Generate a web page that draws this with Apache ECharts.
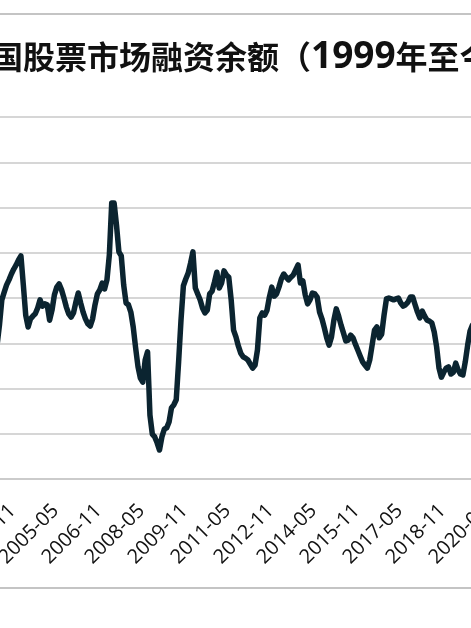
<!DOCTYPE html>
<html>
<head>
<meta charset="utf-8">
<script src="https://cdn.jsdelivr.net/npm/echarts@6/dist/echarts.min.js"></script>
<style>
html,body{margin:0;padding:0;background:#fff;overflow:hidden;width:471px;height:628px;}
#chart{position:absolute;left:-100px;top:0;width:671px;height:628px;}
</style>
</head>
<body>
<div id="chart"></div>
<script>
// Chart title pieces
var titleHead = '中国股票市场融资余额（';
var titleYear = '1999';
var titleTail = '年至今）';

// Monthly categories starting 2002-05 (235 months, to 2021-11)
var startYear = 2002, startMonth = 5, monthCount = 235;
var months = [];
for (var i = 0; i < monthCount; i++) {
  var t = (startMonth - 1) + i;
  var y = startYear + Math.floor(t / 12);
  var m = (t % 12) + 1;
  months.push(y + '-' + (m < 10 ? '0' + m : '' + m));
}

// Values (months before the visible area are unknown -> null)
var hiddenBefore = [null,null,null,null,null,null,null,null,null,null,null,null,null];
var values2003 = [2.96,3.40,3.96,4.13,4.29,4.40,4.53,4.64,4.73,4.84,4.93];
var values2004 = [4.29,3.62,3.36,3.54,3.60,3.65,3.78,3.96,3.82,3.87,3.85,3.51];
var values2005 = [3.73,4.07,4.24,4.31,4.18,4.00,3.80,3.65,3.58,3.67,3.91,4.11];
var values2006 = [3.89,3.69,3.54,3.43,3.38,3.54,3.85,4.09,4.18,4.33,4.20,4.40];
var values2007 = [4.95,6.10,6.10,5.61,5.02,4.93,4.29,3.89,3.85,3.69,3.36,2.90];
var values2008 = [2.48,2.23,2.14,2.63,2.81,1.41,0.99,0.93,0.80,0.64,0.93,1.10];
var values2009 = [1.13,1.26,1.57,1.64,1.75,2.59,3.51,4.27,4.42,4.55,4.77,5.02];
var values2010 = [4.22,4.09,3.96,3.78,3.67,3.73,4.09,4.15,4.35,4.57,4.22,4.33];
var values2011 = [4.60,4.51,4.46,3.96,3.29,3.14,2.94,2.78,2.70,2.67,2.63,2.54];
var values2012 = [2.45,2.52,2.85,3.56,3.67,3.62,3.73,4.02,4.24,4.04,4.09,4.24];
var values2013 = [4.42,4.53,4.46,4.40,4.46,4.51,4.62,4.73,4.33,4.38,4.07,3.87];
var values2014 = [3.96,4.11,4.09,4.02,3.69,3.54,3.34,3.12,2.96,3.14,3.51,3.76];
var values2015 = [3.60,3.40,3.23,3.05,3.07,3.18,3.12,2.98,2.85,2.72,2.59,2.52];
var values2016 = [2.45,2.63,2.96,3.29,3.36,3.12,3.20,3.62,3.98,4.00,3.98,3.96];
var values2017 = [3.98,4.00,3.89,3.82,3.85,3.91,4.02,4.02,3.85,3.69,3.56,3.71];
var values2018 = [3.60,3.51,3.49,3.45,3.25,2.92,2.45,2.25,2.36,2.45,2.48,2.32];
var values2019 = [2.36,2.56,2.41,2.32,2.30,2.59,2.96,3.27,3.40];

var seriesValues = [].concat(hiddenBefore, values2003, values2004, values2005, values2006,
  values2007, values2008, values2009, values2010, values2011, values2012, values2013,
  values2014, values2015, values2016, values2017, values2018, values2019);

var chart = echarts.init(document.getElementById('chart'), null, {renderer: 'canvas'});
var W = 671;
chart.setOption({
  animation: false,
  backgroundColor: '#ffffff',
  title: {
    text: '{c|' + titleHead + '}{d|' + titleYear + '}{c|' + titleTail + '}',
    left: 54,
    top: 31,
    textStyle: {
      rich: {
        c: {fontFamily: 'Noto Sans CJK SC', fontSize: 32, fontWeight: 'bold', color: '#111111', lineHeight: 42, verticalAlign: 'middle'},
        d: {fontFamily: 'Open Sans', fontSize: 37, fontWeight: 'bold', color: '#111111', lineHeight: 42, verticalAlign: 'middle'}
      }
    }
  },
  graphic: [
    {type: 'line', shape: {x1: 0, y1: 14, x2: W, y2: 14}, style: {stroke: '#c4c4c4', lineWidth: 2}},
    {type: 'line', shape: {x1: 0, y1: 588, x2: W, y2: 588}, style: {stroke: '#c4c4c4', lineWidth: 2}}
  ],
  grid: {left: 66, right: 46, top: 117, bottom: 149, containLabel: false},
  xAxis: {
    type: 'category',
    data: months,
    boundaryGap: false,
    axisLine: {show: true, lineStyle: {color: '#c8c8c8', width: 1.5}},
    axisTick: {show: false},
    axisLabel: {
      interval: 17, rotate: 45, margin: 25, verticalAlign: 'top', lineHeight: 10,
      fontFamily: 'Open Sans', fontSize: 20, color: '#111111'
    },
    splitLine: {show: false}
  },
  yAxis: {
    type: 'value',
    min: 0, max: 8, interval: 1,
    axisLine: {show: false},
    axisTick: {show: false},
    axisLabel: {show: false},
    splitLine: {lineStyle: {color: '#c8c8c8', width: 1.5}}
  },
  series: [{
    type: 'line',
    data: seriesValues,
    showSymbol: false,
    smooth: false,
    connectNulls: false,
    lineStyle: {color: '#0b2430', width: 5.5, cap: 'round', join: 'round'}
  }]
});
</script>
</body>
</html>
